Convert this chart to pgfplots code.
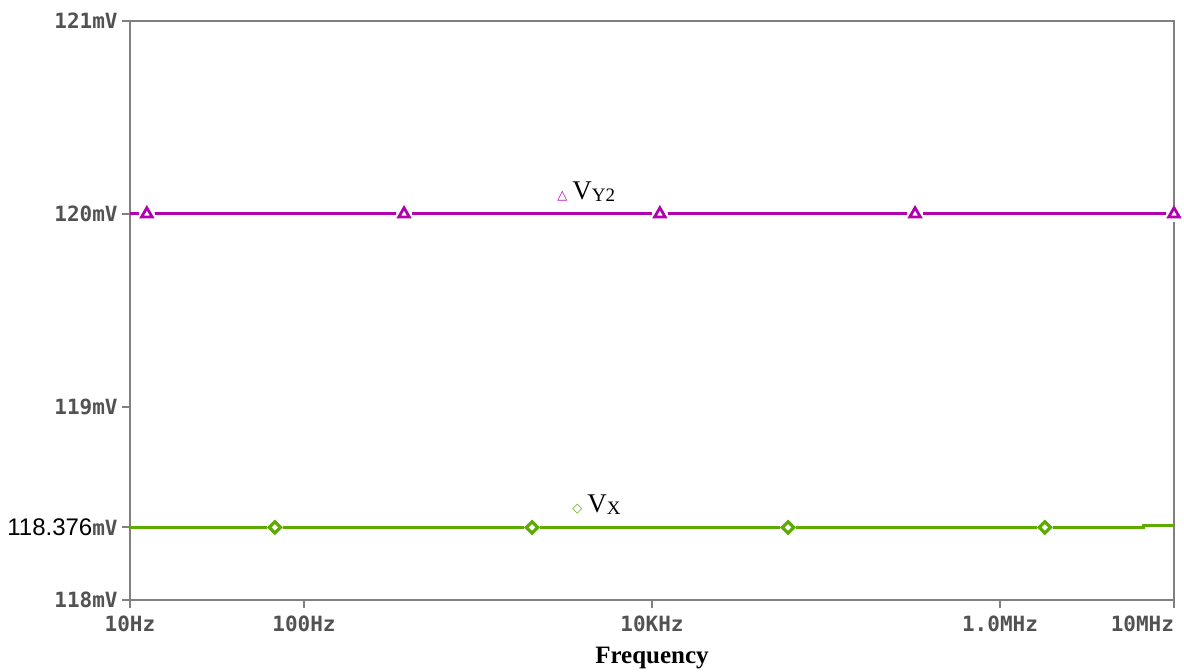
\documentclass[border=0pt]{standalone}
\usepackage{fontspec}
\setmainfont{Liberation Serif}
\newfontfamily\tickfont{DejaVu Sans Mono}
\newfontfamily\valfont{Liberation Sans}
\newfontfamily\symfont{DejaVu Sans}
\usepackage{pgfplots}
\pgfplotsset{compat=1.18}

\definecolor{axgray}{RGB}{128,128,128}
\definecolor{tickgray}{RGB}{82,82,82}
\definecolor{vycol}{RGB}{176,0,176}
\definecolor{vxcol}{RGB}{92,172,0}

\newcommand{\tl}[1]{{\tickfont\bfseries\color{tickgray}#1}}

\begin{document}
\begin{tikzpicture}
\useasboundingbox (0,0) rectangle (592pt,336pt);
\begin{axis}[
  at={(65pt,36pt)}, anchor=south west,
  scale only axis,
  width=522pt, height=289.5pt,
  xmode=log,
  xmin=10, xmax=1e7,
  ymin=118, ymax=121,
  axis line style={axgray, line width=1pt},
  tick style={axgray, line width=1pt},
  tick align=outside,
  major tick length=4pt,
  xtick pos=bottom, ytick pos=left,
  minor tick num=0,
  xtick={10,100,10000,1000000,10000000},
  xticklabels={\tl{10Hz},\tl{100Hz},\tl{10KHz},\tl{1.0MHz},\makebox[0pt][r]{\tl{10MHz}}},
  ytick={118,118.376,119,120,121},
  yticklabels={\tl{118mV},{{\valfont\fontsize{12}{12}\selectfont 118.376}\tl{mV}},\tl{119mV},\tl{120mV},\tl{121mV}},
  tick label style={font=\fontsize{10.5}{11}\selectfont},
  xticklabel style={anchor=base, inner sep=0pt, yshift=-12pt},
  yticklabel style={anchor=east, inner sep=0pt, xshift=-2pt},
  xlabel={\fontsize{12.5}{13}\selectfont\bfseries Frequency},
  xlabel style={at={(axis description cs:0.5,0)}, anchor=base, inner sep=0pt, yshift=-32pt},
  clip=false,
]
% V(Y2): flat at 120 mV across the sweep
\addplot[vycol, line width=1.5pt]
  coordinates {(10,120) (10000000,120)};
\addplot[only marks, white, mark=*, mark size=3.8pt]
  coordinates {(12.5,120) (376,120) (11100,120) (325000,120) (10000000,120)};
\addplot[only marks, vycol, mark=triangle, mark size=3.1pt,
  mark options={solid, fill=white, line width=1.4pt}]
  coordinates {(12.5,120) (376,120) (11100,120) (325000,120) (10000000,120)};
% V(X): flat at 118.376 mV with a small step near the top of the band
\addplot[vxcol, line width=1.5pt]
  coordinates {(10,118.376) (6640000,118.376) (6640000,118.388) (10000000,118.388)};
\addplot[only marks, white, mark=*, mark size=3.8pt]
  coordinates {(68,118.376) (2044,118.376) (60500,118.376) (1810000,118.376)};
\addplot[only marks, vxcol, mark=square, mark size=2.0pt,
  mark options={solid, fill=white, line width=1.6pt, rotate=45}]
  coordinates {(68,118.376) (2044,118.376) (60500,118.376) (1810000,118.376)};
% trace labels
\node[anchor=base west, inner sep=0pt] at (axis cs:2845,120.073)
  {{\symfont\color{vycol}\fontsize{6.5}{7}\selectfont △}\hspace{2.5pt}{\fontsize{13.5}{14}\selectfont V}\raisebox{-1pt}{\fontsize{9.5}{10}\selectfont Y2}};
\node[anchor=base west, inner sep=0pt] at (axis cs:3467,118.451)
  {{\symfont\color{vxcol}\fontsize{6.5}{7}\selectfont ◇}\hspace{2.5pt}{\fontsize{13.5}{14}\selectfont V}\raisebox{-1pt}{\fontsize{9.5}{10}\selectfont X}};
\end{axis}
\end{tikzpicture}
\end{document}
